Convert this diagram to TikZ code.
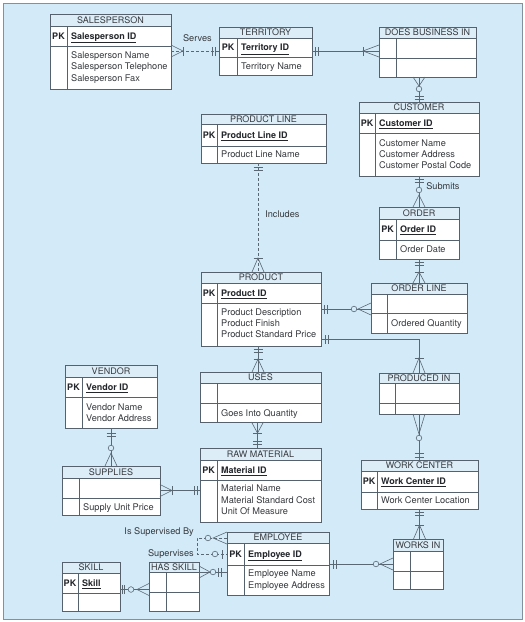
\documentclass[tikz,border=0pt]{standalone}
\usepackage{fontspec}
\setmainfont{TeX Gyre Heros}
\usetikzlibrary{decorations.markings}
\definecolor{bgblue}{RGB}{211,234,248}
\definecolor{headblue}{RGB}{220,237,248}
\definecolor{framegray}{RGB}{130,145,155}
\definecolor{boxgray}{RGB}{85,97,108}
\definecolor{relgray}{RGB}{90,104,116}
\definecolor{inkgray}{RGB}{55,58,62}
\definecolor{keygray}{RGB}{35,38,42}
\tikzset{bgframe/.style={draw=framegray, line width=0.8pt, fill=bgblue},
 entbox/.style={draw=boxgray, line width=0.7pt, anchor=north west, inner sep=0pt, outer sep=0pt},
 entline/.style={draw=boxgray, line width=0.6pt},
 enttext/.style={inner sep=0pt, text height=6.5pt, text depth=0pt, text=inkgray},
 enthead/.style={enttext, font=\fontsize{9}{11}\selectfont},
 pktag/.style={enttext, font=\fontsize{9}{11}\selectfont\bfseries, text=keygray},
 pkkey/.style={pktag, anchor=west},
 entattr/.style={enttext, font=\fontsize{9.2}{11}\selectfont, anchor=west},
 rellabel/.style={enttext, font=\fontsize{9.2}{11}\selectfont},
 rel/.style={draw=relgray, line width=0.6pt},
 dashrel/.style={dash pattern=on 3pt off 2pt},
 relbar/.style={postaction={decorate, decoration={markings,
   mark=at position #1 with {\draw[solid, rel] (0pt,-4.5pt) -- (0pt,4.5pt);}}}},
 relring/.style={postaction={decorate, decoration={markings,
   mark=at position #1 with {\draw[solid, rel, fill=bgblue] (0pt,0pt) circle[radius=2.8pt];}}}},
 crowstart/.style={postaction={decorate, decoration={markings,
   mark=at position #1 with {\draw[solid, rel] (-#1,6pt) -- (0pt,0pt) -- (-#1,-6pt);}}}},
 crowend/.style={postaction={decorate, decoration={markings,
   mark=at position -#1 with {\draw[solid, rel] (#1,6pt) -- (0pt,0pt) -- (#1,-6pt);}}}},
 }
% entity: name, x1, y1, x2, y2, title row bottom, key row bottom, column line, title
\newcommand{\erbox}[9]{%
  \fill[white] (#2,#3) rectangle (#4,#5);
  \fill[headblue] (#2,#3) rectangle (#4,#6);
  \draw[entline] (#2,#6) -- (#4,#6) (#2,#7) -- (#4,#7) (#8,#6) -- (#8,#5);
  \node[entbox, minimum width={#4pt-#2pt}, minimum height={#5pt-#3pt}] (#1) at (#2,#3) {};
  \node[enthead] (#1-head) at ({(#2+#4)/2},{(#3+#6)/2}) {#9};}
% key row: name, PK column centre, text x, y, key
\newcommand{\erkey}[5]{%
  \node[pktag] (#1-pk) at (#2,#4) {PK};
  \node[pkkey] (#1-key) at (#3,#4) {\underline{#5}};}

\begin{document}
\begin{tikzpicture}[x=1pt, y=-1pt]
    \useasboundingbox (0,0) rectangle (525,622);
    \fill[white] (0,0) rectangle (525,622);
    \draw[bgframe] (3,3) rectangle (522,619);

    % entities
    \erbox{sales}{50}{14}{171}{89}{26}{46}{67}{SALESPERSON}
    \erkey{sales}{58.5}{71}{36}{Salesperson ID}
    \foreach \t [count=\i] in {Salesperson Name, Salesperson Telephone, Salesperson Fax}
        \node[entattr] (sales-a\i) at (71,{44+11.3*\i}) {\t};

    \erbox{terr}{219}{27}{312}{75}{38}{57}{237}{TERRITORY}
    \erkey{terr}{228}{241}{47.5}{Territory ID}
    \node[entattr] (terr-a1) at (241,66) {Territory Name};

    \erbox{dbi}{379}{27}{476}{77}{38}{58}{396}{DOES BUSINESS IN}

    \erbox{cust}{359}{102}{479}{176}{113}{133}{375}{CUSTOMER}
    \erkey{cust}{367}{379}{123}{Customer ID}
    \foreach \t [count=\i] in {Customer Name, Customer Address, Customer Postal Code}
        \node[entattr] (cust-a\i) at (379,{132+11*\i}) {\t};

    \erbox{pline}{201}{114}{326}{163}{124}{146}{217}{PRODUCT LINE}
    \erkey{pline}{209}{221}{135}{Product Line ID}
    \node[entattr] (pline-a1) at (221,154.5) {Product Line Name};

    \erbox{order}{379}{207}{459}{259}{219}{240}{396}{ORDER}
    \erkey{order}{387.5}{400}{229.5}{Order ID}
    \node[entattr] (order-a1) at (400,249.5) {Order Date};

    \erbox{prod}{201}{272}{321}{346}{283}{303}{217}{PRODUCT}
    \erkey{prod}{209}{221}{293}{Product ID}
    \foreach \t [count=\i] in {Product Description, Product Finish, Product Standard Price}
        \node[entattr] (prod-a\i) at (221,{301+11*\i}) {\t};

    \erbox{oline}{371}{283}{467}{333}{294}{313}{387}{ORDER LINE}
    \node[entattr] (oline-a1) at (391,323) {Ordered Quantity};

    \erbox{vendor}{65}{365}{157}{428}{377}{397}{82}{VENDOR}
    \erkey{vendor}{73.5}{86}{387}{Vendor ID}
    \foreach \t [count=\i] in {Vendor Name, Vendor Address}
        \node[entattr] (vendor-a\i) at (86,{396+11*\i}) {\t};

    \erbox{uses}{200}{372}{321}{422}{383}{403}{217}{USES}
    \node[entattr] (uses-a1) at (221,413) {Goes Into Quantity};

    \erbox{prodin}{379}{373}{459}{414}{383}{403}{395}{PRODUCED IN}

    \erbox{supplies}{62}{466}{160}{515}{478}{498}{79}{SUPPLIES}
    \node[entattr] (supplies-a1) at (83,507) {Supply Unit Price};

    \erbox{raw}{200}{448}{321}{522}{460}{480}{217}{RAW MATERIAL}
    \erkey{raw}{208.5}{221}{470}{Material ID}
    \foreach \t [count=\i] in {Material Name, Material Standard Cost, Unit Of Measure}
        \node[entattr] (raw-a\i) at (221,{477.5+11.2*\i}) {\t};

    \erbox{wc}{361}{460}{478}{509}{471}{492}{377}{WORK CENTER}
    \erkey{wc}{369}{381}{481.5}{Work Center ID}
    \node[entattr] (wc-a1) at (381,500.5) {Work Center Location};

    \erbox{emp}{227}{532}{329}{595}{543}{565}{244}{EMPLOYEE}
    \erkey{emp}{235.5}{248}{554}{Employee ID}
    \foreach \t [count=\i] in {Employee Name, Employee Address}
        \node[entattr] (emp-a\i) at (248,{562+11.5*\i}) {\t};

    \erbox{worksin}{393}{539}{443}{589}{551}{571}{410}{WORKS IN}
    \erbox{skill}{62}{562}{120}{611}{573}{593}{78}{SKILL}
    \erkey{skill}{70}{82}{583}{Skill}
    \erbox{hskill}{149}{562}{199}{611}{572}{592}{166}{HAS SKILL}

    % relationships
    \draw[rel, dashrel, crowstart=12pt, relbar=12pt, relbar=-3.5pt, relbar=-6.5pt]
        (sales.east |- terr.west) -- (terr.west) node[rellabel, pos=.55, above=9pt] (serves) {Serves};
    \draw[rel, relbar=3.5pt, relbar=6pt, crowend=16pt, relbar=-16pt] (terr.east) -- (terr.east -| dbi.west);
    \draw[rel, crowstart=9pt, relring=12pt, relbar=-3pt, relbar=-5.5pt] (cust.north |- dbi.south) -- (cust.north);
    \draw[rel, relbar=3pt, relbar=6pt, relring=-17pt, crowend=12pt]
        (cust.south) -- (order.north) node[rellabel, pos=.32, right=7pt] (submits) {Submits};
    \draw[rel, relbar=3pt, relbar=6pt, crowend=11pt, relbar=-11pt] (order.south) -- (oline.north);
    \draw[rel, dashrel, relbar=4pt, relbar=7pt, crowend=14pt, relbar=-14pt]
        ([xshift=-5.5pt]pline.south) -- ([xshift=-5.5pt]pline.south |- prod.north)
        node[rellabel, pos=.47, right=7pt] (includes) {Includes};
    \draw[rel, relbar=3.5pt, relbar=6.5pt, relring=-17pt, crowend=13pt] (prod.east) -- (prod.east -| oline.west);
    \draw[rel, relbar=4pt, relbar=7pt, crowend=15pt, relbar=-15pt] ([yshift=-30pt]prod.east) -| (prodin.north);
    \draw[rel, relbar=3pt, relbar=6pt, crowend=13pt, relbar=-13pt]
        ([xshift=-3pt]prod.south) -- ([xshift=-3pt]prod.south |- uses.north);
    \draw[rel, crowstart=11pt, relbar=11pt, relbar=-4pt, relbar=-7pt]
        ([xshift=-3pt]uses.south) -- ([xshift=-3pt]uses.south |- raw.north);
    \draw[rel, relbar=5pt, relbar=8.5pt, relring=-18pt, crowend=13pt] (vendor.south) -- (supplies.north);
    \draw[rel, crowstart=12pt, relbar=12pt, relbar=-3pt, relbar=-6pt] (supplies.east) -- (supplies.east -| raw.west);
    \draw[rel, crowstart=20pt, relring=24pt, relbar=-3pt, relbar=-7pt] (prodin.south) -- (prodin.south |- wc.north);
    \draw[rel, relbar=3pt, relbar=6pt, crowend=14pt, relbar=-14pt] (wc.south) -- (wc.south |- worksin.north);
    \draw[rel, relbar=4.5pt, relbar=7pt, relring=-17pt, crowend=13pt] (emp.east |- worksin.west) -- (worksin.west);
    \draw[rel, crowstart=11pt, relring=14pt, relbar=-5.5pt, relbar=-8.5pt]
        ([yshift=-10pt]hskill.north east) -- ([yshift=-10pt]hskill.north east -| emp.west);
    \draw[rel, relbar=2pt, relbar=4.5pt, relring=-18pt, crowend=12pt] ([yshift=-3pt]skill.east) -- ([yshift=-3pt]hskill.west);
    \draw[rel, dashrel, crowstart=14pt, relring=19pt, relring=-12pt, relbar=-5pt]
        ([yshift=-6pt]emp.north west) -- ++(-30,0) |- ([yshift=-22pt]emp.north west);
    \node[rellabel, anchor=east] (supby) at (194,531) {Is Supervised By};
    \node[rellabel, anchor=east] (sups) at (194,553) {Supervises};
\end{tikzpicture}
\end{document}
